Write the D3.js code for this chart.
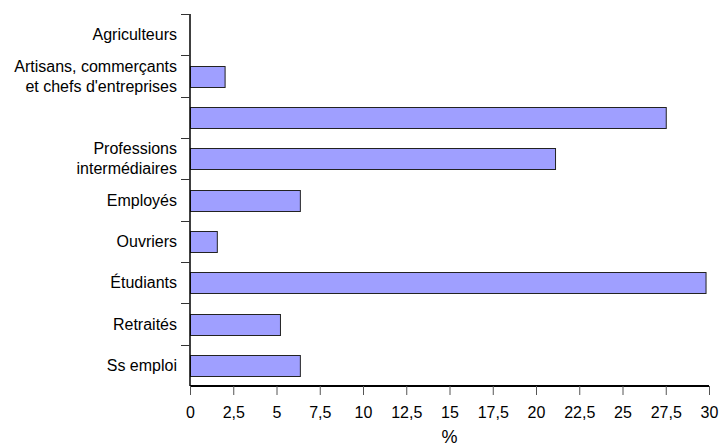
<!DOCTYPE html>
<html>
<head>
<meta charset="utf-8">
<script src="https://cdn.jsdelivr.net/npm/d3@7"></script>
<style>
  body { margin: 0; background: #fff; }
  text { font-family: "Liberation Sans", Arial, sans-serif; fill: #000; }
</style>
</head>
<body>
<script>
// data
var categories = ["Agriculteurs", "Artisans", "Cadres", "Professions intermediaires",
    "Employes", "Ouvriers", "Etudiants", "Retraites", "Ss emploi"];
var labels = [["Agriculteurs"], ["Artisans, commerçants", "et chefs d'entreprises"], [""],
    ["Professions", "intermédiaires"], ["Employés"], ["Ouvriers"], ["Étudiants"],
    ["Retraités"], ["Ss emploi"]];
var values = [0, 2.0, 27.5, 21.1, 6.35, 1.55, 29.8, 5.2, 6.35];
var xTicks = [0, 2.5, 5, 7.5, 10, 12.5, 15, 17.5, 20, 22.5, 25, 27.5, 30];

var data = categories.map(function (c, i) {
    return { cat: c, label: labels[i], value: values[i] };
});

//setup
var margin = { top: 14, bottom: 61, right: 11, left: 190 };
var width = 720 - margin.left - margin.right;
var height = 447 - margin.top - margin.bottom;

var svg = d3.select("body")
    .append("svg")
    .attr("width", 720)
    .attr("height", 447)
    .append("g")
    .attr("transform", "translate(" + margin.left + "," + margin.top + ")");

var x = d3.scaleLinear().domain([0, 30]).range([0, width]);
var y = d3.scaleBand().domain(categories).range([0, height])
    .paddingInner(0.5).paddingOuter(0.25);

var fr = d3.formatLocale({ decimal: ",", thousands: " ", grouping: [3], currency: ["", "€"] });

// bars
svg.selectAll("rect.bar")
    .data(data.filter(function (d) { return d.value > 0; }))
    .enter().append("rect")
    .attr("class", "bar")
    .attr("x", x(0) + 0.5)
    .attr("y", function (d) { return Math.round(y(d.cat)) + 0.5; })
    .attr("width", function (d) { return x(d.value) - x(0); })
    .attr("height", Math.round(y.bandwidth()))
    .attr("fill", "#9f9fff")
    .attr("stroke", "#222")
    .attr("stroke-width", 1);

// x axis
var xAxis = svg.append("g")
    .attr("transform", "translate(0," + height + ")")
    .call(d3.axisBottom(x).tickValues(xTicks).tickSize(9).tickPadding(12)
        .tickFormat(fr.format("~g")));
xAxis.select(".domain").attr("stroke", "#000").attr("stroke-width", 2)
    .attr("d", "M0,0H" + width);
xAxis.selectAll(".tick line").attr("stroke", "#555");
xAxis.selectAll("text").style("font-size", "16px")
    .style("font-family", "'Liberation Sans', Arial, sans-serif").attr("fill", "#000");

// y axis: ticks at band boundaries
var bounds = d3.range(categories.length + 1).map(function (i) { return i * height / categories.length; });
var yAx = svg.append("g");
yAx.append("line").attr("x1", 0).attr("x2", 0).attr("y1", 0).attr("y2", height)
    .attr("stroke", "#000").attr("stroke-width", 1.5);
yAx.selectAll("line.tk").data(bounds.slice(0, -1)).enter().append("line")
    .attr("class", "tk")
    .attr("x1", -9).attr("x2", 0)
    .attr("y1", function (d) { return Math.round(d) + 0.5; })
    .attr("y2", function (d) { return Math.round(d) + 0.5; })
    .attr("stroke", "#333");

// category labels
var lab = svg.selectAll("text.cat")
    .data(data).enter().append("text")
    .attr("class", "cat")
    .attr("text-anchor", "end")
    .style("font-size", "16px")
    .attr("transform", function (d) {
        return "translate(-13," + (y(d.cat) + y.bandwidth() / 2) + ")";
    });
lab.each(function (d) {
    var n = d.label.length;
    d3.select(this).selectAll("tspan").data(d.label).enter().append("tspan")
        .attr("x", 0)
        .attr("y", function (t, i) { return (i - (n - 1) / 2) * 20; })
        .attr("dy", "0.35em")
        .text(function (t) { return t; });
});

// x title
svg.append("text")
    .attr("x", width / 2)
    .attr("y", height + 57)
    .attr("text-anchor", "middle")
    .style("font-size", "18px")
    .text("%");
</script>
</body>
</html>
